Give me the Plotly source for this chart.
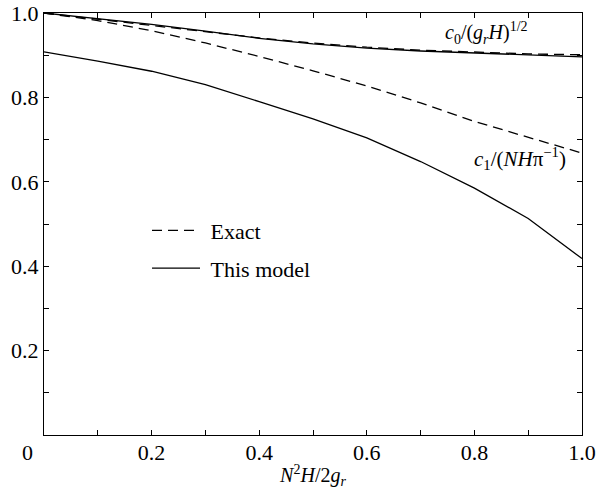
import plotly.graph_objects as go

x = [0.0, 0.1, 0.2, 0.3, 0.4, 0.5, 0.6, 0.7, 0.8, 0.9, 1.0]
c0_exact = [1.0, 0.985, 0.970, 0.955, 0.941, 0.929, 0.919, 0.912, 0.907, 0.903, 0.901]
c0_model = [1.0, 0.986, 0.973, 0.957, 0.940, 0.927, 0.917, 0.910, 0.905, 0.900, 0.896]
c1_exact = [1.0, 0.982, 0.958, 0.929, 0.897, 0.863, 0.827, 0.787, 0.743, 0.706, 0.668]
c1_model = [0.908, 0.886, 0.862, 0.830, 0.790, 0.749, 0.704, 0.648, 0.585, 0.513, 0.418]

x_tickvals = [0, 0.2, 0.4, 0.6, 0.8, 1.0]
x_ticktext = ["0" + "\u00a0" * 6, "0.2", "0.4", "0.6", "0.8", "1.0"]
y_tickvals = [0, 0.2, 0.4, 0.6, 0.8, 1.0]
y_ticktext = ["", "0.2", "0.4", "0.6", "0.8", "1.0"]

FONT = "Liberation Serif"
dash = "10px,6px"

fig = go.Figure()
fig.add_trace(go.Scatter(x=x, y=c0_exact, mode="lines", name="\u00a0Exact", legendgroup="e",
                         line=dict(color="black", width=1.3, dash=dash)))
fig.add_trace(go.Scatter(x=x, y=c1_exact, mode="lines", name="Exact", legendgroup="e", showlegend=False,
                         line=dict(color="black", width=1.3, dash=dash)))
fig.add_trace(go.Scatter(x=x, y=c0_model, mode="lines", name="\u00a0This model", legendgroup="m",
                         line=dict(color="black", width=1.3)))
fig.add_trace(go.Scatter(x=x, y=c1_model, mode="lines", name="This model", legendgroup="m", showlegend=False,
                         line=dict(color="black", width=1.3)))

axis_common = dict(range=[0, 1], showline=True, linecolor="black", linewidth=1.3, mirror="allticks",
                   ticks="inside", ticklen=5, tickwidth=1.2, tickcolor="black", showgrid=False, zeroline=False,
                   automargin=False,
                   tickfont=dict(family=FONT, size=22, color="black"),
                   minor=dict(dtick=0.1, ticks="inside", ticklen=5, tickwidth=1.2, tickcolor="black", showgrid=False))

fig.update_xaxes(**axis_common, tickvals=x_tickvals, ticktext=x_ticktext, ticklabelstandoff=-3,
                 title=dict(text="<i>N</i><sup>2</sup><i>H</i>/2<i>g<sub>r</sub></i>",
                            font=dict(family=FONT, size=20, color="black"), standoff=4))
fig.update_yaxes(**axis_common, tickvals=y_tickvals, ticktext=y_ticktext, ticklabelstandoff=0)

fig.add_annotation(x=0.822, y=0.952, xref="x", yref="y", showarrow=False,
                   text="<i>c</i><sub>0</sub>/(<i>g<sub>r</sub></i><i>H</i>)<sup>1/2</sup>",
                   font=dict(family=FONT, size=20, color="black"))
fig.add_annotation(x=0.885, y=0.656, xref="x", yref="y", showarrow=False,
                   text="<i>c</i><sub>1</sub>/(<i>NH</i>π<sup>−1</sup>)",
                   font=dict(family=FONT, size=21, color="black"))

fig.update_layout(
    width=597, height=502,
    margin=dict(l=44, r=15, t=13, b=67),
    paper_bgcolor="white", plot_bgcolor="white",
    showlegend=True,
    legend=dict(x=0.1915, y=0.534, xanchor="left", yanchor="top", bgcolor="rgba(0,0,0,0)",
                font=dict(family=FONT, size=22, color="black"), tracegroupgap=6, itemwidth=48),
)

fig.write_html("out.html", config={"displayModeBar": False},
               post_script="document.body.style.margin='0px';")
